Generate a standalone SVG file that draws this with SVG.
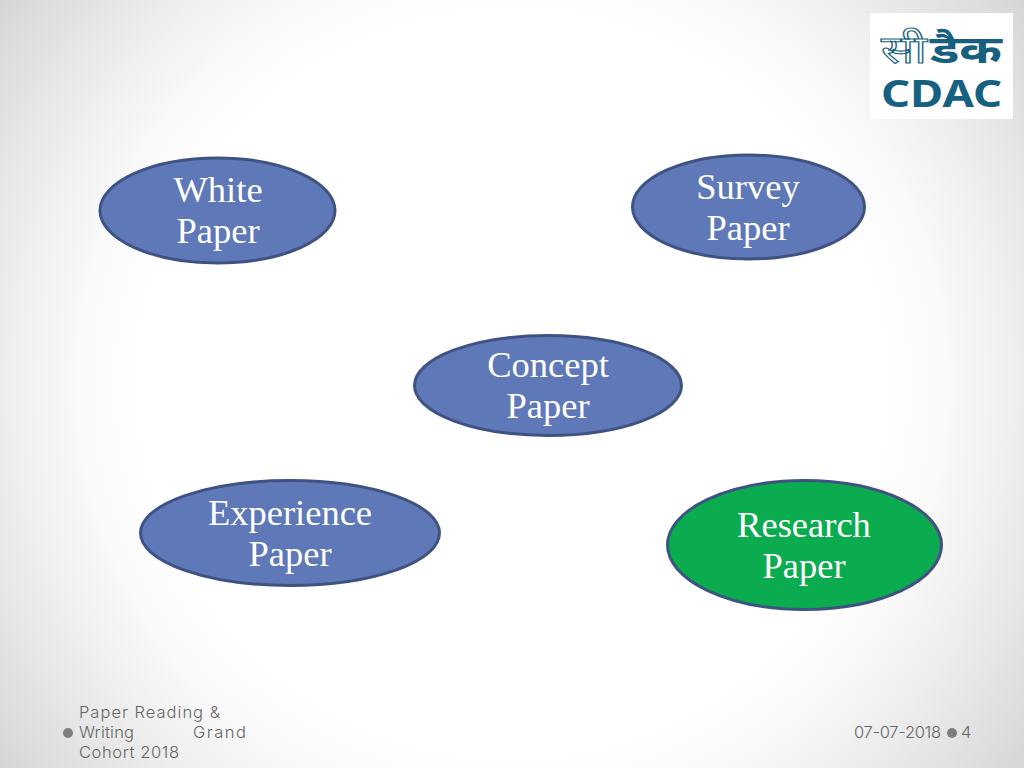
<svg xmlns="http://www.w3.org/2000/svg" width="1024" height="768" viewBox="0 0 1024 768">
<style>
.n{stroke:#3f5383;stroke-width:3;fill:#5f78b8}
.g{fill:#0bab4f}
.t{font-family:"Liberation Serif",serif;font-size:36.5px;fill:#fff;text-anchor:middle}
.f{font-family:"Inter","Liberation Sans",sans-serif;font-weight:300;font-size:16.5px;fill:#666}
.d{fill:#7f7f7f}
.l{font-family:"Noto Sans","Liberation Sans",sans-serif;fill:#17607f;font-weight:700}
.o{fill:#fff;stroke:#17607f;stroke-width:1.1;font-weight:400}
</style>
<defs>
<radialGradient id="bg" gradientUnits="userSpaceOnUse" cx="512" cy="384" r="640">
<stop offset="0" stop-color="#fff"/><stop offset=".58" stop-color="#fff"/><stop offset=".68" stop-color="#f9f9f9"/><stop offset=".8" stop-color="#ededed"/><stop offset="1" stop-color="#d6d6d6"/>
</radialGradient>
</defs>
<rect id="background" width="1024" height="768" fill="url(#bg)"/>
<g id="logo">
<rect x="870" y="13" width="143" height="106" fill="#fff"/>
<text class="l o" x="881" y="63" font-size="38" textLength="46" lengthAdjust="spacingAndGlyphs">सी</text>
<text class="l" x="930" y="63" font-size="38" textLength="72" lengthAdjust="spacingAndGlyphs">डैक</text>
<text class="l" x="881" y="107" font-size="38" textLength="121" lengthAdjust="spacingAndGlyphs">CDAC</text>
</g>
<g id="connectors"/>
<g id="white-paper"><ellipse class="n" cx="217.500" cy="210.500" rx="117.500" ry="52.500"/><text class="t" x="218" y="202">White</text><text class="t" x="218" y="243">Paper</text></g>
<g id="survey-paper"><ellipse class="n" cx="748.500" cy="207" rx="116" ry="52"/><text class="t" x="748" y="199">Survey</text><text class="t" x="748" y="240">Paper</text></g>
<g id="concept-paper"><ellipse class="n" cx="548" cy="385.500" rx="133.500" ry="50"/><text class="t" x="548" y="377">Concept</text><text class="t" x="548" y="418">Paper</text></g>
<g id="experience-paper"><ellipse class="n" cx="290" cy="533" rx="149.500" ry="52.500"/><text class="t" x="290" y="525">Experience</text><text class="t" x="290" y="566">Paper</text></g>
<g id="research-paper"><ellipse class="n g" cx="804.500" cy="545" rx="137" ry="64.500"/><text class="t" x="804" y="537">Research</text><text class="t" x="804" y="578">Paper</text></g>
<g id="footer">
<circle class="d" cx="68" cy="733" r="5"/>
<text class="f" x="79" y="718" textLength="141">Paper Reading &amp;</text>
<text class="f" x="79" y="738" textLength="55">Writing</text><text class="f" x="193" y="738" textLength="53">Grand</text>
<text class="f" x="79" y="758" textLength="100">Cohort 2018</text>
<text class="f" x="854" y="738" textLength="87">07-07-2018</text>
<circle class="d" cx="952" cy="733" r="5"/>
<text class="f" x="961" y="738">4</text>
</g>
</svg>
